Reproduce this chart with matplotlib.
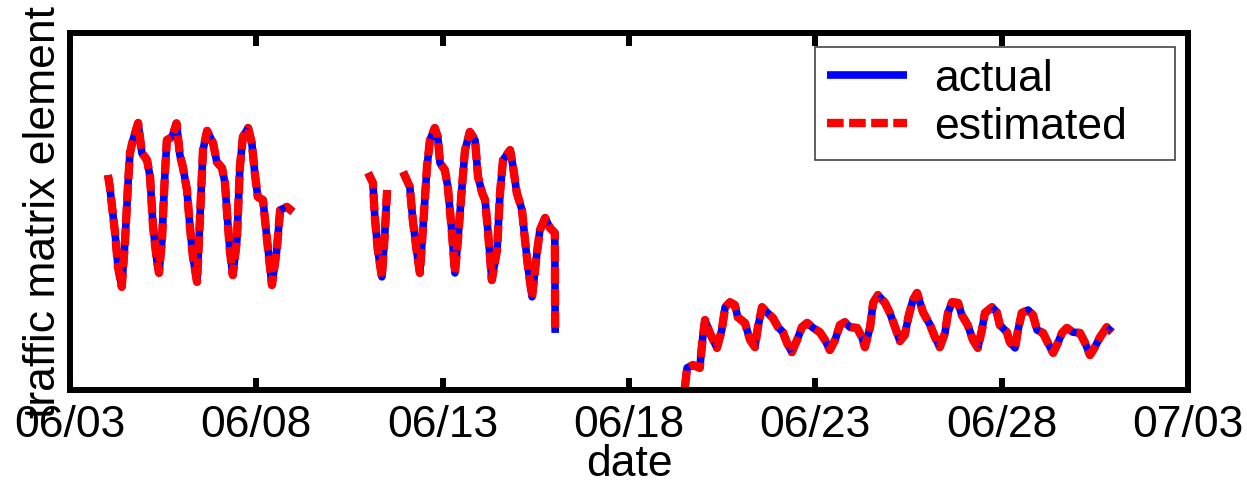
import numpy as np
import matplotlib
matplotlib.use("Agg")
import matplotlib.pyplot as plt
import matplotlib.dates as mdates

plt.rcParams['font.family'] = ['Liberation Sans', 'DejaVu Sans']

# days after 06/03 and traffic values (arbitrary units)
seg1_days = [1.02, 1.07, 1.21, 1.29, 1.39, 1.48, 1.56, 1.61, 1.69, 1.83, 1.93, 2.07, 2.15,
             2.23, 2.33, 2.39, 2.47, 2.55, 2.60, 2.74, 2.86, 2.95, 3.03, 3.14, 3.22, 3.30,
             3.41, 3.49, 3.57, 3.68, 3.84, 3.94, 4.08, 4.16, 4.21, 4.29, 4.37, 4.48, 4.56,
             4.64, 4.78, 4.88, 4.96, 5.04, 5.18, 5.29, 5.42, 5.55, 5.64, 5.82, 5.98]
seg1_vals = [60.2, 56.9, 44.0, 34.5, 28.9, 42.0, 58.0, 66.4, 70.0, 74.8, 66.4, 64.4, 59.7,
             45.7, 36.4, 32.8, 42.0, 60.8, 70.0, 70.9, 74.7, 65.8, 62.5, 56.0, 45.7, 37.3,
             30.3, 48.5, 67.2, 72.6, 69.2, 63.9, 62.2, 58.0, 50.4, 39.2, 32.2, 42.0, 62.5,
             70.9, 73.4, 69.2, 60.8, 54.1, 53.2, 42.0, 29.4, 39.2, 50.4, 51.3, 49.9]

seg2_days = [8.00, 8.13, 8.18, 8.26, 8.37, 8.45, 8.51]
seg2_vals = [60.8, 58.0, 48.5, 39.2, 31.7, 44.0, 56.0]

seg3_days = [8.94, 9.12, 9.20, 9.31, 9.39, 9.47, 9.58, 9.66, 9.79, 9.87, 9.93, 10.06, 10.14,
             10.25, 10.33, 10.41, 10.52, 10.60, 10.73, 10.87, 10.95, 11.06, 11.14, 11.22,
             11.32, 11.46, 11.54, 11.62, 11.81, 11.89, 11.99, 12.13, 12.21, 12.29, 12.40,
             12.53, 12.61, 12.75, 12.88, 13.01, 13.02]
seg3_vals = [61.1, 56.9, 47.6, 38.4, 32.8, 44.8, 62.5, 70.0, 73.4, 70.9, 63.6, 61.6, 56.9,
             44.0, 32.8, 42.0, 56.9, 67.2, 72.3, 70.0, 59.7, 55.2, 53.2, 44.0,
             30.8, 39.2, 55.2, 64.4, 67.2, 62.5, 55.2, 50.4, 42.0, 34.5, 26.1,
             38.4, 44.8, 48.2, 45.4, 44.0, 16.0]

seg4_days = [16.50, 16.56, 16.72, 16.90, 16.98, 17.04, 17.17, 17.36, 17.49, 17.58, 17.71,
             17.84, 17.92, 18.11, 18.25, 18.38, 18.46, 18.57, 18.70, 18.86, 19.00, 19.13,
             19.24, 19.37, 19.51, 19.64, 19.78, 19.94, 20.12, 20.26, 20.39, 20.53, 20.66,
             20.79, 20.93, 21.12, 21.25, 21.33, 21.47, 21.55, 21.68, 21.87, 22.00, 22.14,
             22.27, 22.40, 22.51, 22.62, 22.73, 22.89, 23.08, 23.21, 23.34, 23.48, 23.56,
             23.67, 23.83, 23.93, 24.09, 24.23, 24.36, 24.47, 24.55, 24.74, 24.87, 24.95,
             25.14, 25.22, 25.36, 25.44, 25.54, 25.71, 25.84, 25.95, 26.11, 26.24, 26.38,
             26.51, 26.62, 26.75, 26.91, 27.10, 27.23, 27.37, 27.50, 27.64, 27.82, 27.96]
seg4_vals = [0.8, 6.2, 7.0, 6.2, 14.8, 19.6, 16.0, 11.8, 16.8, 23.2, 24.6,
             23.8, 20.4, 18.8, 14.0, 12.0, 17.6, 23.2, 21.8, 20.2, 17.6, 16.2,
             13.2, 10.6, 14.0, 17.6, 18.8, 17.4, 16.2, 14.0, 11.2, 14.0, 18.2,
             19.0, 17.6, 17.4, 14.8, 12.0, 17.6, 24.4, 26.6, 24.4, 21.6, 17.6,
             13.7, 15.4, 21.0, 25.2, 27.2, 21.8, 18.2, 14.8, 12.0, 16.0, 21.6,
             24.6, 24.4, 21.0, 18.2, 14.0, 11.8, 16.8, 21.6, 23.2, 21.8, 18.2,
             16.2, 13.4, 11.8, 16.8, 21.6, 22.4, 21.0, 16.8, 16.0, 13.2, 10.4,
             13.2, 16.0, 17.4, 16.2, 16.0, 13.4, 9.8, 12.0, 14.8, 17.6, 16.2]

segments_days = [seg1_days, seg2_days, seg3_days, seg4_days]
actual = [seg1_vals, seg2_vals, seg3_vals, seg4_vals]
# the estimate lies on top of the actual curve everywhere in the picture
estimated = [seg1_vals, seg2_vals, seg3_vals, seg4_vals]

start = np.datetime64('2004-06-03T00:00')
end = np.datetime64('2004-07-03T00:00')


def to_dates(days):
    return start + (np.array(days) * 24 * 60).astype('timedelta64[m]')


fig = plt.figure(figsize=(12.47, 4.84), dpi=100)
ax = fig.add_axes([0.0561, 0.1942, 0.8966, 0.7376])

for i, days in enumerate(segments_days):
    t = to_dates(days)
    ax.plot(t, actual[i], color='blue', lw=5.5, solid_capstyle='butt',
            label='actual' if i == 0 else None)
    ax.plot(t, estimated[i], color='red', lw=6, dashes=(2.0, 0.65),
            label='estimated' if i == 0 else None)

ax.set_xlim(start, end)
ax.set_ylim(0, 100)
ax.xaxis.set_major_locator(mdates.DayLocator(bymonthday=[3, 8, 13, 18, 23, 28]))
ax.xaxis.set_major_formatter(mdates.DateFormatter('%m/%d'))
ax.set_yticks([])
ax.tick_params(axis='x', direction='in', top=True, length=9, width=4.3,
               labelsize=32, pad=11)
for s in ax.spines.values():
    s.set_linewidth(4.3)

ax.set_xlabel('date', fontsize=32, labelpad=-2)
ax.set_ylabel('traffic matrix element', fontsize=32, labelpad=4)

leg = ax.legend(loc='upper left', bbox_to_anchor=(0.6664, 0.962, 0.322, 0.0),
                mode='expand', fontsize=32, fancybox=False, framealpha=1,
                edgecolor='#444444', borderaxespad=0, handlelength=1.8,
                handletextpad=0.6, labelspacing=0.15, borderpad=0.28)
leg.get_frame().set_linewidth(1.2)

fig.savefig('out.png', dpi=100)
